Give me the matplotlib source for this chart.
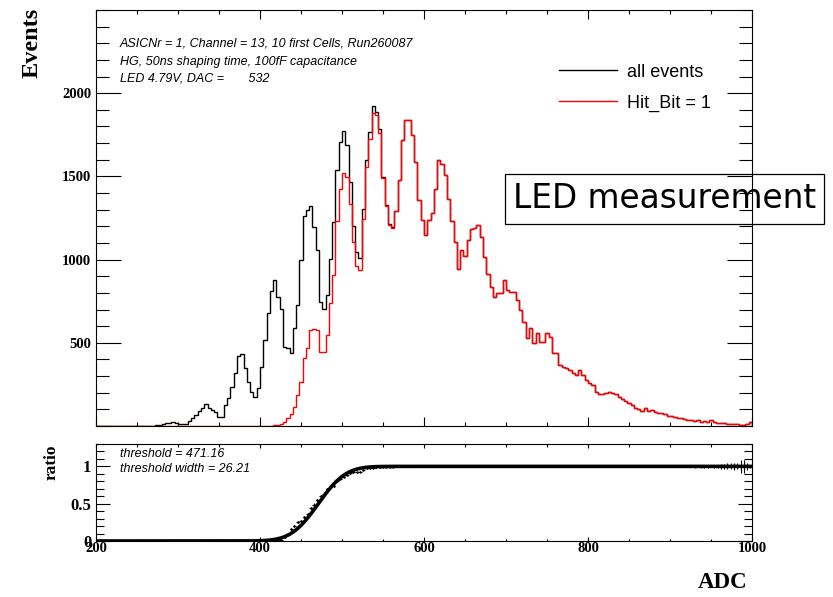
import math
import numpy as np
import matplotlib
matplotlib.use("Agg")
import matplotlib.pyplot as plt
from matplotlib.ticker import MultipleLocator

plt.rcParams["font.family"] = "Liberation Serif"
plt.rcParams["font.weight"] = "bold"
plt.rcParams["axes.labelweight"] = "bold"

# 4-ADC bins from 200 to 1000
bin_edges = np.arange(200, 1001, 4)

# all events, bins 200..560
all_low = [0] * 17 + [
    2, 4, 6, 12, 16, 18, 22, 16, 10, 10,
    12, 30, 50, 66, 90, 106, 130, 106, 96, 86,
    56, 56, 126, 166, 236, 320, 420, 432, 346, 266,
    206, 172, 226, 356, 516, 680, 810, 876, 776, 706,
    476, 470, 436, 586, 726, 996, 1262, 1296, 1320, 1196,
    1056, 746, 706, 790, 1006, 1226, 1536, 1706, 1770, 1686,
    1466, 1202, 1046, 1008, 1306, 1596, 1766, 1922, 1890, 1782,
    1496, 1326, 1216, 1196,
]
# Hit_Bit = 1, bins 200..560
hit_low = [0] * 53 + [
    2, 4, 8, 12, 24, 46, 70, 116, 186, 266,
    406, 466, 578, 584, 576, 446, 446, 546, 742, 906,
    1230, 1426, 1522, 1496, 1336, 1106, 962, 936, 1246, 1556,
    1726, 1882, 1866, 1760, 1490, 1320, 1210, 1190,
]
# bins 564..996, both histograms coincide
tail = [
    1290, 1476, 1716, 1836, 1836, 1750, 1586, 1356, 1236, 1150,
    1236, 1282, 1426, 1596, 1576, 1506, 1362, 1230, 1106, 946,
    1056, 1022, 1116, 1186, 1190, 1206, 1136, 1016, 916, 836,
    776, 802, 802, 876, 816, 806, 806, 760, 700, 626,
    526, 586, 496, 556, 506, 506, 560, 536, 440, 436,
    366, 356, 346, 336, 316, 306, 336, 306, 276, 260,
    246, 206, 194, 194, 198, 202, 200, 190, 176, 160,
    150, 140, 126, 110, 104, 88, 106, 88, 95, 86,
    76, 80, 72, 60, 60, 52, 46, 46, 44, 36,
    36, 32, 36, 26, 32, 26, 36, 26, 20, 16,
    16, 12, 12, 10, 12, 6, 6, 10, 22,
]

threshold = 471.16
threshold_width = 26.21

all_events = np.array(all_low + tail, dtype=float)
hit_events = np.array(hit_low + tail, dtype=float)

centers = 0.5 * (bin_edges[:-1] + bin_edges[1:])
filled = all_events > 0
n = all_events[filled]
ratio = hit_events[filled] / n
ratio_err = np.sqrt(ratio * (1 - ratio) / n) + 0.5 * ratio / n

adc = np.linspace(200, 1000, 801)
erf = np.vectorize(math.erf)
fit = 0.5 * (1 + erf((adc - threshold) / (threshold_width * math.sqrt(2))))

W, H = 833, 597
fig = plt.figure(figsize=(W / 100, H / 100), dpi=100)
ax = fig.add_axes([96 / W, 1 - 426 / H, 656 / W, 416 / H])
ax2 = fig.add_axes([96 / W, 1 - 541 / H, 656 / W, 97 / H])

ax.stairs(all_events, bin_edges, color="black", lw=1.0, label="all events")
ax.stairs(hit_events, bin_edges, color="red", lw=1.0, label="Hit_Bit = 1")
ax.set_xlim(200, 1000)
ax.set_ylim(0, 2500)
ax.xaxis.set_major_locator(MultipleLocator(200))
ax.xaxis.set_minor_locator(MultipleLocator(50))
ax.yaxis.set_major_locator(MultipleLocator(500))
ax.yaxis.set_minor_locator(MultipleLocator(100))
ax.set_yticks([500, 1000, 1500, 2000])
ax.tick_params(which="both", direction="in", top=True, right=True,
               labelbottom=False, width=0.8, labelsize=10.5, pad=3.5)
ax.tick_params(axis="y", which="major", length=18)
ax.tick_params(axis="y", which="minor", length=9.5)
ax.tick_params(axis="x", which="major", length=6.5)
ax.tick_params(axis="x", which="minor", length=3)
ax.set_ylabel("Events", fontsize=17.5, fontweight="bold", loc="top")
ax.yaxis.set_label_coords(-0.082, 1.005)

sans_it = dict(family="Liberation Sans", style="italic", weight="normal", fontsize=9)
ax.text(0.0366, 0.92, "ASICNr = 1, Channel = 13, 10 first Cells, Run260087",
        transform=ax.transAxes, va="center", **sans_it)
ax.text(0.0366, 0.8757, "HG, 50ns shaping time, 100fF capacitance",
        transform=ax.transAxes, va="center", **sans_it)
ax.text(0.0366, 0.8349, "LED 4.79V, DAC =       532",
        transform=ax.transAxes, va="center", **sans_it)

ax.legend(loc="upper left", bbox_to_anchor=(0.7058, 0.871), frameon=False,
          borderpad=0, borderaxespad=0, handlelength=3.2, handletextpad=0.55,
          labelspacing=0.76,
          prop=dict(family="Liberation Sans", weight="normal", size=13))

fig.text(664.5 / W, 1 - 199 / H, "LED measurement", family="DejaVu Sans",
         weight="normal", fontsize=23.6, ha="center", va="center",
         bbox=dict(boxstyle="square,pad=0.25", fc="none", ec="black", lw=0.9))

# ratio panel
ax2.errorbar(centers[filled], ratio, xerr=2, yerr=ratio_err, fmt=".",
             color="black", ms=1.5, elinewidth=0.8, capsize=0)
ax2.plot(adc, fit, color="black", lw=2.6)
ax2.set_xlim(200, 1000)
ax2.set_ylim(0, 1.3)
ax2.xaxis.set_major_locator(MultipleLocator(200))
ax2.xaxis.set_minor_locator(MultipleLocator(50))
ax2.yaxis.set_major_locator(MultipleLocator(0.5))
ax2.yaxis.set_minor_locator(MultipleLocator(0.1))
ax2.set_yticks([0, 0.5, 1])
ax2.set_yticklabels(["0", "0.5", "1"])
ax2.tick_params(which="both", direction="in", top=True, right=True, width=0.8)
ax2.tick_params(axis="y", which="major", length=10, labelsize=12, pad=3.5)
ax2.tick_params(axis="y", which="minor", length=5.5)
ax2.tick_params(axis="x", which="major", length=3, labelsize=10.5, pad=1)
ax2.tick_params(axis="x", which="minor", length=1.8)
ax2.set_ylabel("ratio", fontsize=12.5, fontweight="bold", loc="top")
ax2.yaxis.set_label_coords(-0.055, 0.99)
ax2.set_xlabel("ADC", fontsize=16.5, fontweight="bold", loc="right")
ax2.xaxis.set_label_coords(0.9924, -0.323)

ax2.text(0.0366, 0.897, "threshold = 471.16", transform=ax2.transAxes,
         va="center", **sans_it)
ax2.text(0.0366, 0.739, "threshold width = 26.21", transform=ax2.transAxes,
         va="center", **sans_it)

for a in (ax, ax2):
    for s in a.spines.values():
        s.set_linewidth(0.8)

fig.savefig("out.png", dpi=100)
